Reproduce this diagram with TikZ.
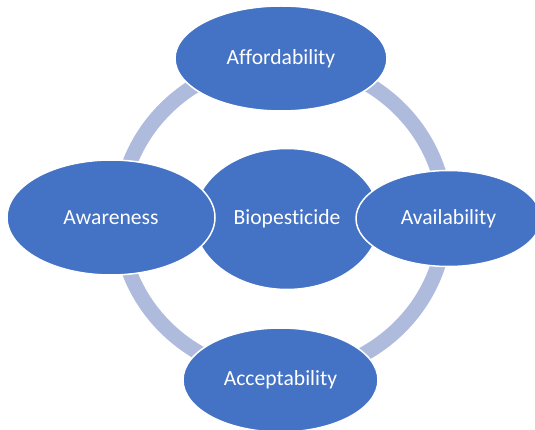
\documentclass[tikz,border=0pt]{standalone}
\usepackage{fontspec}
\setmainfont{Carlito}[Ligatures={NoCommon}]
\usetikzlibrary{shapes.geometric,backgrounds}
\definecolor{myblue}{RGB}{68,114,196}
\definecolor{mylightblue}{RGB}{175,187,221}
\newcommand{\ringwidth}{15pt}
\tikzset{
    common/.style={ellipse, draw=white, line width=1.5pt, fill=myblue, text=white, inner sep=0pt,
        font=\fontsize{21.6}{26}\selectfont},
    hub/.style={common, minimum width=186pt, minimum height=141pt},
    factor/.style={common, minimum width=210pt, minimum height=108pt},
    ring/.style={draw=mylightblue, line width=\ringwidth}
}

\begin{document}
\begin{tikzpicture}[x=1pt, y=-1pt]
    \useasboundingbox (0,0) rectangle (535,430);
    \node[hub] (bio) at (287,219) {Biopesticide};
    \node[factor, minimum width=212pt, minimum height=105pt] (aff) at (281,58.5) {Affordability};
    \node[factor, minimum width=208pt, minimum height=115pt] (awr) at (111,217.5) {Awareness};
    \node[factor, minimum width=185pt, minimum height=96pt] (ava) at (448.5,218.5) {Availability};
    \node[factor, minimum width=195pt, minimum height=104pt] (acc) at (280.5,380) {Acceptability};

    \begin{scope}[on background layer]
        \coordinate (ringc) at (282.5,218);
        \draw[ring] (ringc) ellipse [x radius=163, y radius=157];
    \end{scope}
\end{tikzpicture}
\end{document}
